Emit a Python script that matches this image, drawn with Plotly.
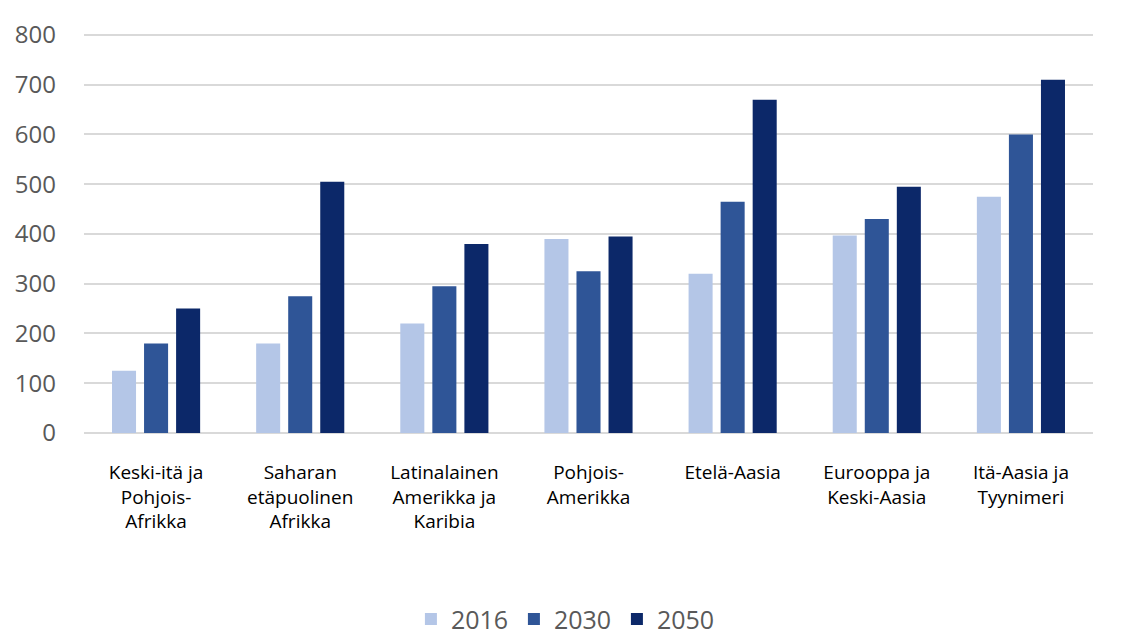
import plotly.graph_objects as go

categories = [
    "Keski-itä ja<br>Pohjois-<br>Afrikka",
    "Saharan<br>etäpuolinen<br>Afrikka",
    "Latinalainen<br>Amerikka ja<br>Karibia",
    "Pohjois-<br>Amerikka",
    "Etelä-Aasia",
    "Eurooppa ja<br>Keski-Aasia",
    "Itä-Aasia ja<br>Tyynimeri",
]
series_names = ["2016", "2030", "2050"]
values_2016 = [125, 180, 220, 390, 320, 397, 475]
values_2030 = [180, 275, 295, 325, 465, 430, 600]
values_2050 = [250, 505, 380, 395, 670, 495, 710]
y_ticks = [0, 100, 200, 300, 400, 500, 600, 700, 800]

colors = ["#b4c6e7", "#2f5597", "#0c2869"]

fig = go.Figure()
for name, vals, col in zip(series_names, [values_2016, values_2030, values_2050], colors):
    fig.add_trace(go.Bar(x=categories, y=vals, name=name, marker=dict(color=col, line=dict(width=0))))
# invisible spacer entry so the last legend label is not clipped
fig.add_trace(go.Scatter(x=[None], y=[None], mode="markers", name=" ",
                         marker=dict(color="rgba(0,0,0,0)", size=1, line=dict(width=0)),
                         showlegend=True, hoverinfo="skip"))

fig.update_layout(
    width=1134, height=642,
    margin=dict(l=84, r=41, t=30, b=209, autoexpand=False),
    paper_bgcolor="white", plot_bgcolor="white",
    barmode="group", bargap=0.333, bargroupgap=0.25,
    showlegend=True,
    legend=dict(orientation="h", x=0.324, xanchor="left", y=-0.462, yanchor="middle",
                font=dict(family="Open Sans", size=25, color="#595959"),
                itemwidth=30, entrywidth=58, entrywidthmode="pixels",
                traceorder="normal", bgcolor="rgba(0,0,0,0)"),
    font=dict(family="Open Sans"),
)
fig.update_xaxes(
    tickfont=dict(family="Open Sans", size=19, color="#000000"),
    showgrid=False, showline=False, zeroline=False,
    ticks="", ticklabelstandoff=26,
)
fig.update_yaxes(
    range=[0, 810], tickvals=y_ticks,
    tickfont=dict(family="Open Sans", size=24, color="#595959"),
    showgrid=True, gridcolor="#d9d9d9", gridwidth=1.5,
    zeroline=True, zerolinecolor="#d9d9d9", zerolinewidth=1.5,
    showline=False, ticks="", ticklabelstandoff=27,
)

fig.write_html("out.html")
